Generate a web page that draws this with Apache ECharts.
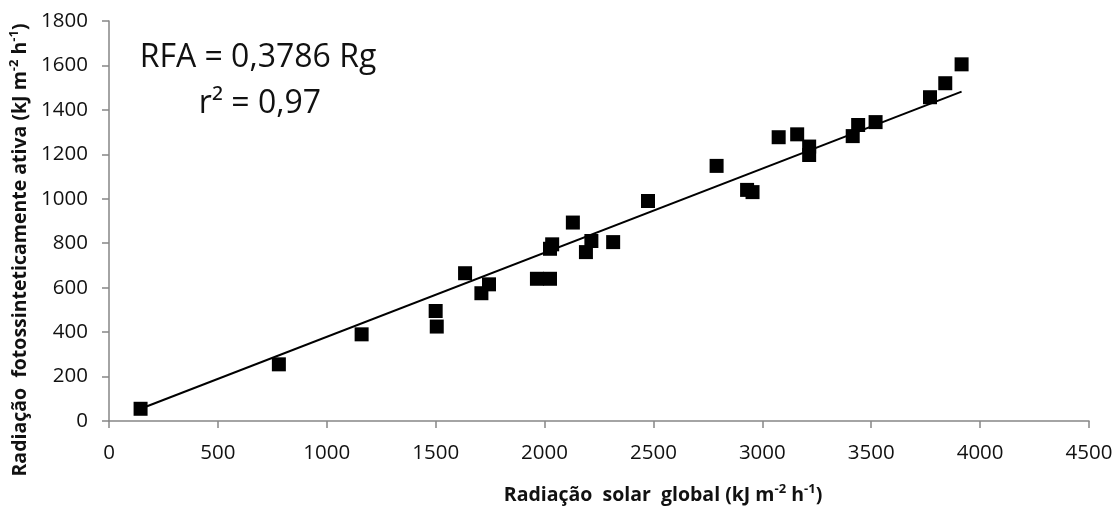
<!DOCTYPE html>
<html>
<head>
<meta charset="utf-8">
<script src="https://cdn.jsdelivr.net/npm/echarts@6/dist/echarts.min.js"></script>
<style>
  html, body { margin: 0; padding: 0; background: #fff; }
  #chart { width: 1117px; height: 506px; }
</style>
</head>
<body>
<div id="chart"></div>
<script>
// Global solar radiation (Rg) and photosynthetically active radiation (RFA), kJ m-2 h-1
const rg = [145, 780, 1160, 1500, 1505, 1635, 1710, 1745, 1965, 2025, 2025, 2035, 2130, 2190, 2215,
            2315, 2475, 2790, 2930, 2955, 3075, 3160, 3215, 3215, 3415, 3440, 3520, 3770, 3840, 3915];
const rfa = [55, 255, 390, 495, 425, 665, 575, 615, 640, 640, 775, 795, 893, 760, 810,
             805, 990, 1148, 1040, 1030, 1277, 1290, 1235, 1197, 1282, 1332, 1345, 1457, 1520, 1605];

// Regression through the origin: RFA = slope * Rg
const slope = 0.3786;
const r2Text = '0,97';

// Axis scales
const xMin = 0, xMax = 4500, xStep = 500;
const yMin = 0, yMax = 1800, yStep = 200;

const points = rg.map((x, i) => [x, rfa[i]]);
const xLo = Math.min(...rg), xHi = Math.max(...rg);
const fitLine = [[xLo, slope * xLo], [xHi, slope * xHi]];

const FONT = '"Open Sans", "Liberation Sans", sans-serif';
const axisGray = '#868686';
const plain = v => String(v);

const supStyle = { fontFamily: FONT, fontWeight: 'bold', fontSize: 13, padding: [0, 0, 9, 0], verticalAlign: 'bottom' };
const titleStyle = { fontFamily: FONT, fontWeight: 'bold', fontSize: 19.5, verticalAlign: 'bottom' };

const chart = echarts.init(document.getElementById('chart'), null, { renderer: 'canvas' });
chart.setOption({
  backgroundColor: '#ffffff',
  animation: false,
  grid: { left: 109, right: 28, top: 21, bottom: 85, containLabel: false },
  xAxis: {
    type: 'value', min: xMin, max: xMax, interval: xStep,
    splitLine: { show: false },
    axisLine: { show: true, onZero: false, lineStyle: { color: axisGray, width: 1.5 } },
    axisTick: { show: true, length: 7, lineStyle: { color: axisGray, width: 1.5 } },
    axisLabel: { color: '#111', fontFamily: FONT, fontSize: 20.5, margin: 22, formatter: plain }
  },
  yAxis: {
    type: 'value', min: yMin, max: yMax, interval: yStep,
    splitLine: { show: false },
    axisLine: { show: true, onZero: false, lineStyle: { color: axisGray, width: 1.5 } },
    axisTick: { show: true, length: 7, lineStyle: { color: axisGray, width: 1.5 } },
    axisLabel: { color: '#111', fontFamily: FONT, fontSize: 20.5, margin: 21, formatter: plain }
  },
  graphic: [
    {
      type: 'text', x: 258, y: 58,
      style: { text: 'RFA = ' + slope.toFixed(4).replace('.', ',') + ' Rg', fill: '#111',
               font: '32px ' + FONT, textAlign: 'center', textVerticalAlign: 'middle' }
    },
    {
      type: 'text', x: 260, y: 104,
      style: { text: 'r² = ' + r2Text, fill: '#111',
               font: '32px ' + FONT, textAlign: 'center', textVerticalAlign: 'middle' }
    },
    {
      type: 'text', x: 663, y: 494,
      style: {
        text: '{t|Radiação  solar  global (kJ m}{s|-2}{t| h}{s|-1}{t|)}',
        fill: '#111', textAlign: 'center', textVerticalAlign: 'middle',
        rich: { t: titleStyle, s: supStyle }
      }
    },
    {
      type: 'text', x: 19, y: 250, rotation: Math.PI / 2,
      style: {
        text: '{t|Radiação  fotossinteticamente ativa (kJ m}{s|-2}{t| h}{s|-1}{t|)}',
        fill: '#111', textAlign: 'center', textVerticalAlign: 'middle',
        rich: { t: titleStyle, s: supStyle }
      }
    }
  ],
  series: [
    {
      type: 'line', data: fitLine, showSymbol: false, symbol: 'none',
      lineStyle: { color: '#000', width: 2 }, z: 2, silent: true
    },
    {
      type: 'scatter', data: points, symbol: 'rect', symbolSize: 14,
      itemStyle: { color: '#000', opacity: 1 }, z: 3
    }
  ]
});
</script>
</body>
</html>
